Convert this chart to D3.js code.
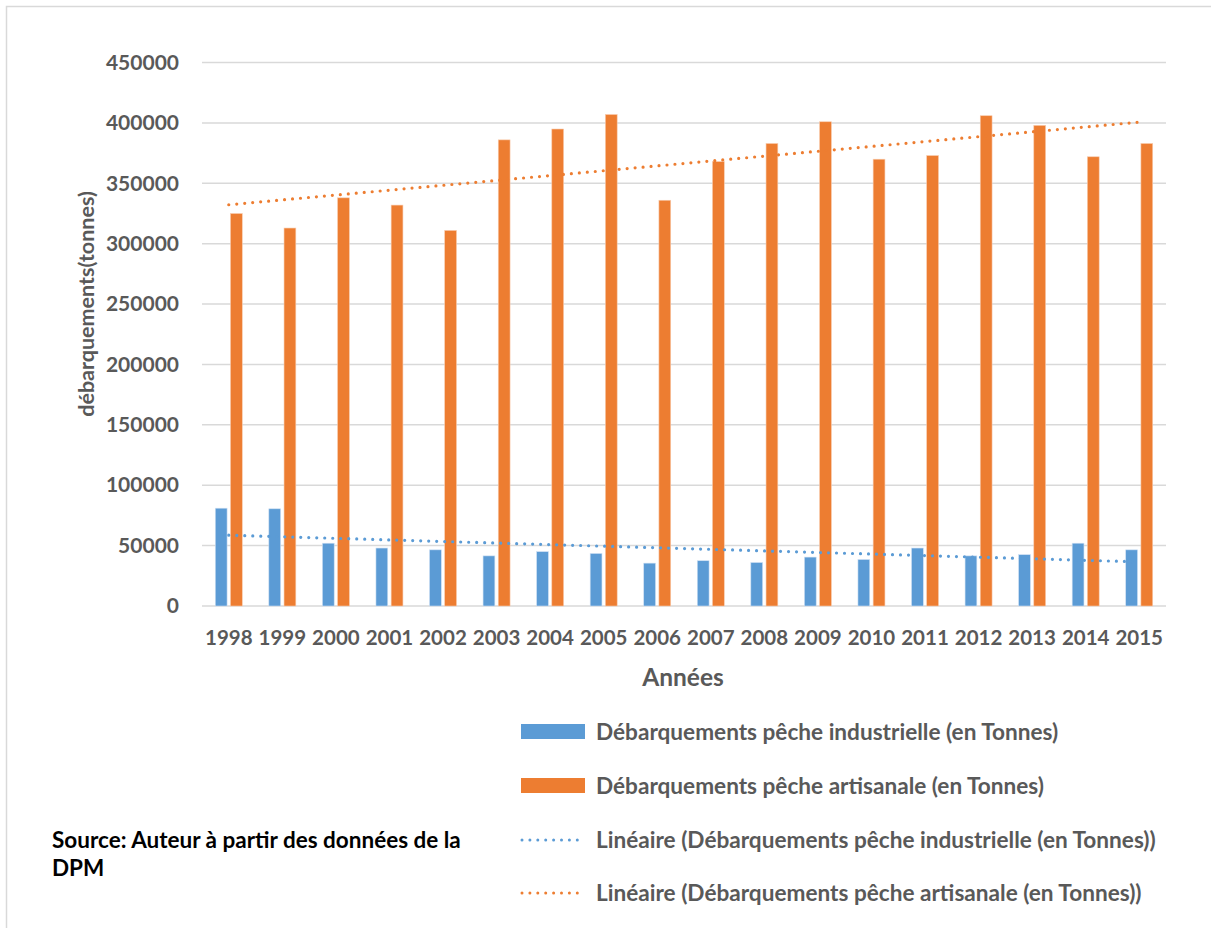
<!DOCTYPE html>
<html>
<head>
<meta charset="utf-8">
<script src="https://cdn.jsdelivr.net/npm/d3@7"></script>
<style>
  html, body { margin: 0; padding: 0; background: #fff; }
  svg { display: block; font-family: Lato, "Open Sans", sans-serif; font-weight: 700; }
</style>
</head>
<body>
<svg id="chart" width="1211" height="928"></svg>
<script>
// Landings by year (tonnes)
const years = ["1998","1999","2000","2001","2002","2003","2004","2005","2006",
               "2007","2008","2009","2010","2011","2012","2013","2014","2015"];
const industrielle = [81000, 80500, 52000, 48000, 46500, 41500, 45000, 43500, 35500,
                      37500, 36000, 40500, 38500, 48000, 41500, 42500, 52000, 46500];
const artisanale = [325000, 313000, 338000, 332000, 311000, 386000, 395000, 407000, 336000,
                    368000, 383000, 401000, 370000, 373000, 406000, 398000, 372000, 383000];
const yTicks = [0, 50000, 100000, 150000, 200000, 250000, 300000, 350000, 400000, 450000];

const legendLabels = [
  "Débarquements pêche industrielle (en Tonnes)",
  "Débarquements pêche artisanale (en Tonnes)",
  "Linéaire (Débarquements pêche industrielle (en Tonnes))",
  "Linéaire (Débarquements pêche artisanale (en Tonnes))"
];

const BLUE = "#5B9BD5", ORANGE = "#ED7D31", GRID = "#d9d9d9", TEXT = "#595959";

const svg = d3.select("#chart");

// chart frame (left and top edges visible)
svg.append("path")
  .attr("d", "M6.5,928 V6.5 H1211")
  .attr("fill", "none").attr("stroke", GRID).attr("stroke-width", 1.5);

const plot = { left: 202, right: 1166, top: 62.6, bottom: 606 };

const x = d3.scaleBand().domain(years).range([plot.left, plot.right]).padding(0);
const y = d3.scaleLinear().domain([0, 450000]).range([plot.bottom, plot.top]);

// horizontal gridlines
svg.append("g").selectAll("line").data(yTicks).join("line")
  .attr("x1", plot.left).attr("x2", plot.right)
  .attr("y1", d => y(d)).attr("y2", d => y(d))
  .attr("stroke", GRID).attr("stroke-width", 1.5);

// y axis labels
const yAxis = svg.append("g").attr("transform", `translate(${179},0)`)
  .call(d3.axisLeft(y).tickValues(yTicks).tickSize(0).tickPadding(0).tickFormat(d3.format("d")));
yAxis.select(".domain").remove();
yAxis.selectAll("text")
  .attr("fill", TEXT).attr("font-size", 21).attr("font-family", "Lato").attr("font-weight", 700);

// x axis labels
const xAxis = svg.append("g").attr("transform", `translate(0,${plot.bottom})`)
  .call(d3.axisBottom(x).tickSize(0).tickPadding(0));
xAxis.select(".domain").remove();
xAxis.selectAll("text")
  .attr("fill", TEXT).attr("font-size", 20.5).attr("font-family", "Lato").attr("font-weight", 700)
  .attr("dy", null).attr("y", 39);

// bars
const barW = 11.8, gap = 3.4;
const bars = svg.append("g");
bars.selectAll("rect.ind").data(years).join("rect").attr("class", "ind")
  .attr("x", (d) => x(d) + x.bandwidth() / 2 - gap / 2 - barW)
  .attr("width", barW)
  .attr("y", (d, i) => y(industrielle[i]))
  .attr("height", (d, i) => y(0) - y(industrielle[i]))
  .attr("fill", BLUE).attr("stroke", "#cfe0f3").attr("stroke-width", 0.6);
bars.selectAll("rect.art").data(years).join("rect").attr("class", "art")
  .attr("x", (d) => x(d) + x.bandwidth() / 2 + gap / 2)
  .attr("width", barW)
  .attr("y", (d, i) => y(artisanale[i]))
  .attr("height", (d, i) => y(0) - y(artisanale[i]))
  .attr("fill", ORANGE).attr("stroke", "#f8cbad").attr("stroke-width", 0.6);

// linear trend (least squares over category index)
function linearFit(vals) {
  const n = vals.length, xm = (n - 1) / 2, ym = d3.mean(vals);
  let sxy = 0, sxx = 0;
  vals.forEach((v, i) => { sxy += (i - xm) * (v - ym); sxx += (i - xm) * (i - xm); });
  const b = sxy / sxx, a = ym - b * xm;
  return [a, a + b * (n - 1)];
}
const cx = d => x(d) + x.bandwidth() / 2;
[[industrielle, BLUE], [artisanale, ORANGE]].forEach(([vals, col]) => {
  const [v0, v1] = linearFit(vals);
  svg.append("line")
    .attr("x1", cx(years[0])).attr("y1", y(v0))
    .attr("x2", cx(years[years.length - 1])).attr("y2", y(v1))
    .attr("stroke", col).attr("stroke-width", 3.2)
    .attr("stroke-linecap", "round").attr("stroke-dasharray", "0 8");
});

// axis titles
svg.append("text").attr("x", 683).attr("y", 686).attr("text-anchor", "middle")
  .attr("fill", TEXT).attr("font-size", 24.5).text("Années");
svg.append("text").attr("transform", "translate(94,304) rotate(-90)")
  .attr("text-anchor", "middle").attr("fill", TEXT).attr("font-size", 21.5)
  .text("débarquements(tonnes)");

// legend
const legend = svg.append("g");
const rowsY = [732, 786, 840, 893];
legendLabels.forEach((lab, i) => {
  const yy = rowsY[i];
  if (i < 2) {
    legend.append("rect").attr("x", 521).attr("y", yy - 8).attr("width", 64).attr("height", 15)
      .attr("fill", i === 0 ? BLUE : ORANGE);
  } else {
    legend.append("line").attr("x1", 522).attr("x2", 585).attr("y1", yy).attr("y2", yy)
      .attr("stroke", i === 2 ? BLUE : ORANGE).attr("stroke-width", 3)
      .attr("stroke-linecap", "round").attr("stroke-dasharray", "0 7.9");
  }
  legend.append("text").attr("x", 596).attr("y", yy + 8)
    .attr("fill", TEXT).attr("font-size", 22.6).text(lab);
});

// source note
const src = svg.append("text").attr("fill", "#000").attr("font-size", 22.5);
src.append("tspan").attr("x", 52).attr("y", 848).text("Source: Auteur à partir des données de la");
src.append("tspan").attr("x", 52).attr("y", 876).text("DPM");
</script>
</body>
</html>
